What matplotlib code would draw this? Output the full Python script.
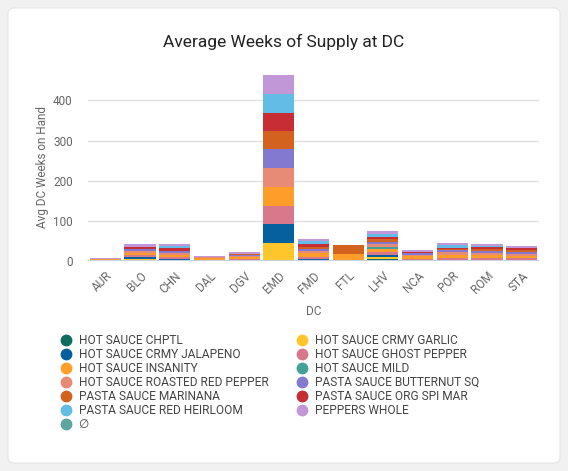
import matplotlib
matplotlib.use("Agg")
import matplotlib.pyplot as plt
import numpy as np
from matplotlib.patches import FancyBboxPatch
from matplotlib.lines import Line2D

plt.rcParams["font.family"] = ["Roboto", "DejaVu Sans"]

dcs = ["AUR", "BLO", "CHN", "DAL", "DGV", "EMD", "FMD", "FTL", "LHV", "NCA", "POR", "ROM", "STA"]

# stacking order (bottom to top), alphabetical
products = [
    "HOT SAUCE CHPTL",
    "HOT SAUCE CRMY GARLIC",
    "HOT SAUCE CRMY JALAPENO",
    "HOT SAUCE GHOST PEPPER",
    "HOT SAUCE INSANITY",
    "HOT SAUCE MILD",
    "HOT SAUCE ROASTED RED PEPPER",
    "PASTA SAUCE BUTTERNUT SQ",
    "PASTA SAUCE MARINANA",
    "PASTA SAUCE ORG SPI MAR",
    "PASTA SAUCE RED HEIRLOOM",
    "PEPPERS WHOLE",
    "\u2205",
]
colors = [
    "#0e6b5e", "#ffc62b", "#06609e", "#d9788a", "#ff9d2a", "#45a09a", "#e78a76",
    "#8379d1", "#d3621f", "#c62d35", "#63bce5", "#c297d7", "#5ea4a0",
]

#                      AUR BLO CHN DAL DGV EMD  FMD FTL LHV NCA POR ROM STA
chptl =               [0,  0,  0,  0,  0,  0,   0,  0,  5,  0,  0,  0,  0]
crmy_garlic =         [0,  4,  0,  0,  0,  45,  0,  0,  4,  0,  0,  0,  0]
crmy_jalapeno =       [0,  5,  4,  3,  3,  47,  5,  0,  7,  3,  3,  3,  3]
ghost_pepper =        [1,  5,  5,  0,  3,  45,  5,  0,  6,  3,  5,  5,  4]
insanity =            [5,  7,  6,  4,  4,  47,  10, 18, 8,  6,  6,  7,  6]
mild =                [0,  0,  0,  0,  0,  0,   0,  0,  5,  0,  0,  0,  0]
roasted_red_pepper =  [0,  5,  5,  2,  2,  47,  4,  0,  8,  3,  8,  4,  5]
butternut_sq =        [0,  3,  4,  0,  2,  47,  6,  0,  5,  4,  5,  7,  5]
marinana =            [0,  1,  1,  0,  4,  47,  5,  22, 7,  1,  4,  3,  4]
org_spi_mar =         [0,  5,  8,  0,  0,  45,  7,  0,  5,  3,  1,  5,  5]
red_heirloom =        [0,  0,  5,  0,  0,  47,  7,  0,  8,  0,  7,  4,  1]
peppers_whole =       [2,  7,  5,  3,  4,  47,  5,  0,  7,  4,  6,  5,  5]
empty_set =           [0,  0,  0,  0,  0,  0,   0,  0,  0,  0,  0,  0,  0]

series = [chptl, crmy_garlic, crmy_jalapeno, ghost_pepper, insanity, mild,
          roasted_red_pepper, butternut_sq, marinana, org_spi_mar, red_heirloom,
          peppers_whole, empty_set]

fig = plt.figure(figsize=(5.68, 4.71), dpi=100, facecolor="#f1f1f1")

# white card behind everything
card = FancyBboxPatch((8 / 568, 1 - 463 / 471), 552 / 568, 455 / 471,
                      boxstyle="round,pad=0,rounding_size=0.012",
                      transform=fig.transFigure, facecolor="white",
                      edgecolor="#e6e6e6", linewidth=0.8, zorder=-10)
fig.patches.append(card)

ax = fig.add_axes([88 / 568, 1 - 261 / 471, 451 / 568, 187 / 471])
ax.set_facecolor("none")

x = np.arange(len(dcs))
bottom = np.zeros(len(dcs))
for name, vals, c in zip(products, series, colors):
    vals = np.array(vals, dtype=float)
    ax.bar(x, vals, width=0.9, bottom=bottom, color=c, label=name, zorder=3)
    bottom += vals

ax.set_xlim(-0.5, len(dcs) - 0.5)
ax.set_ylim(0, 466)
ax.set_yticks([0, 100, 200, 300, 400])
ax.grid(axis="y", color="#e0e0e0", linewidth=1, zorder=0)
ax.axhline(0, color="#c7d3e3", linewidth=1.5, zorder=4)
for s in ax.spines.values():
    s.set_visible(False)
ax.tick_params(axis="both", length=0, colors="#666666", labelsize=8.5)
ax.tick_params(axis="y", pad=11)
ax.set_xticks(x)
ax.set_xticklabels(dcs, rotation=45, ha="right", rotation_mode="anchor")
ax.tick_params(axis="x", pad=6)
ax.set_xlabel("DC", color="#666666", fontsize=8.5, labelpad=6)
ax.set_ylabel("Avg DC Weeks on Hand", color="#666666", fontsize=8.5, labelpad=3)

fig.text(0.5, 1 - 42 / 471, "Average Weeks of Supply at DC", ha="center", va="center",
         fontsize=12.5, color="#222222")

# legend: row-major across two columns
handles = [Line2D([], [], marker="o", linestyle="none", markersize=7.5,
                  markerfacecolor=c, markeredgecolor=c) for c in colors]
left_idx = list(range(0, len(products), 2))
right_idx = list(range(1, len(products), 2))
for idx, xpos in ((left_idx, 60 / 568), (right_idx, 296 / 568)):
    fig.legend([handles[i] for i in idx], [products[i] for i in idx],
               loc="upper left", bbox_to_anchor=(xpos, 1 - 334 / 471),
               frameon=False, fontsize=8.6, labelcolor="#444444",
               handletextpad=0.55, labelspacing=0.08, borderaxespad=0,
               borderpad=0, handlelength=1.0)

fig.savefig("out.png", dpi=100, facecolor=fig.get_facecolor())
